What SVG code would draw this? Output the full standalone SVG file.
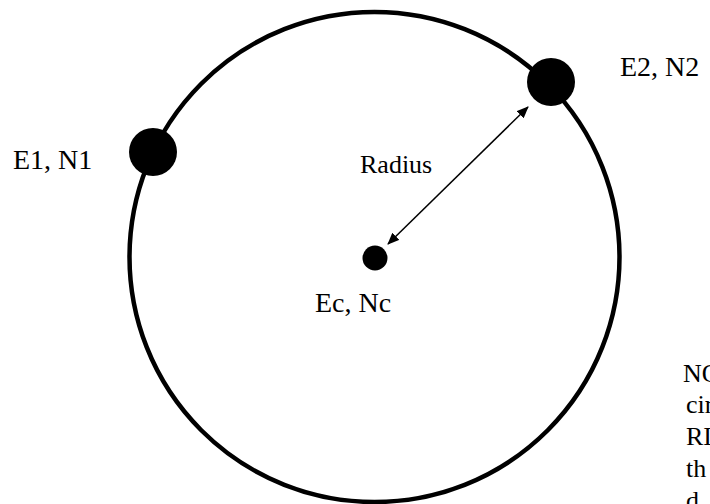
<svg xmlns="http://www.w3.org/2000/svg" width="710" height="504" viewBox="0 0 710 504">
<style>
text{font-family:"Liberation Serif","Times New Roman",serif;font-size:28px;fill:#000}
.ring{fill:none;stroke:#000;stroke-width:4.5}
.dot{fill:#000}
.conn{stroke:#000;stroke-width:1.5;fill:none}
.note{font-size:26px}
</style>
<defs>
<marker id="ah" viewBox="0 0 12 10" refX="11" refY="5" markerWidth="12" markerHeight="10" markerUnits="userSpaceOnUse" orient="auto-start-reverse">
<path d="M0,0 L12,5 L0,10 Z" fill="#000"/>
</marker>
</defs>
<rect width="710" height="504" fill="#fff"/>
<g id="circle"><circle class="ring" cx="374.5" cy="257" r="245"/></g>
<g id="connectors">
<line class="conn" x1="388" y1="244" x2="528" y2="107" marker-start="url(#ah)" marker-end="url(#ah)"/>
</g>
<g id="p1"><circle class="dot" cx="153" cy="152" r="24"/><text x="13" y="169">E1, N1</text></g>
<g id="p2"><circle class="dot" cx="551" cy="82" r="24"/><text x="620" y="76">E2, N2</text></g>
<g id="pc"><circle class="dot" cx="375" cy="258" r="12.5"/><text x="315" y="312">Ec, Nc</text></g>
<g id="radius"><text x="360" y="173" style="font-size:26px">Radius</text></g>
<g id="note" class="note">
<text class="note" x="683" y="382">NO</text>
<text class="note" x="686" y="413">cir</text>
<text class="note" x="686" y="445">RI</text>
<text class="note" x="686" y="477">th</text>
<text class="note" x="686" y="509">d</text>
</g>
</svg>
